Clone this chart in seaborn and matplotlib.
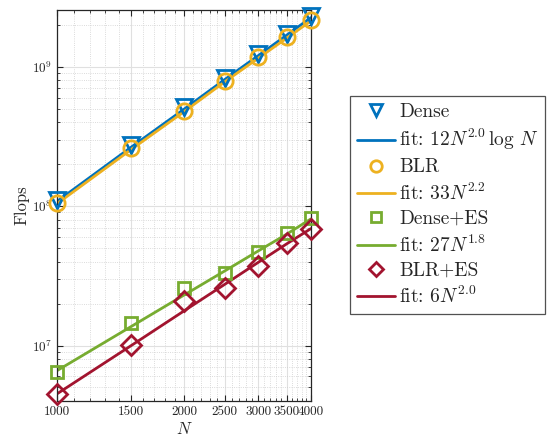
import matplotlib
matplotlib.use("Agg")
import matplotlib.pyplot as plt
import matplotlib.ticker as mticker
import seaborn as sns
import pandas as pd

# problem sizes
n_values = [1000, 1500, 2000, 2500, 3000, 3500, 4000]

dense_flops = [1.10e8, 2.75e8, 5.10e8, 8.30e8, 1.23e9, 1.72e9, 2.30e9]
blr_flops = [1.06e8, 2.60e8, 4.81e8, 7.90e8, 1.17e9, 1.63e9, 2.16e9]
dense_es_flops = [6.5e6, 1.46e7, 2.58e7, 3.30e7, 4.72e7, 6.40e7, 8.20e7]
blr_es_flops = [4.5e6, 1.01e7, 2.07e7, 2.60e7, 3.74e7, 5.42e7, 6.87e7]

# fitted curves
dense_fit = [1.08e8, 2.65e8, 4.95e8, 8.10e8, 1.20e9, 1.68e9, 2.25e9]
blr_fit = [1.04e8, 2.55e8, 4.75e8, 7.80e8, 1.15e9, 1.60e9, 2.13e9]
dense_es_fit = [6.6e6, 1.37e7, 2.30e7, 3.43e7, 4.77e7, 6.28e7, 8.10e7]
blr_es_fit = [4.5e6, 1.00e7, 1.77e7, 2.75e7, 3.95e7, 5.35e7, 6.90e7]

series_names = ["Dense", "BLR", "Dense+ES", "BLR+ES"]
fit_labels = [r"fit: $12N^{2.0}\,\log\,N$", r"fit: $33N^{2.2}$",
              r"fit: $27N^{1.8}$", r"fit: $6N^{2.0}$"]
tick_labels = ["1000", "1500", "2000", "2500", "3000", "3500", "4000"]

sns.set_style("ticks")
plt.rcParams["font.family"] = "serif"
plt.rcParams["font.serif"] = ["cmr10"]
plt.rcParams["mathtext.fontset"] = "cm"
plt.rcParams["axes.formatter.use_mathtext"] = True
plt.rcParams["axes.unicode_minus"] = False

colors = ["#0072BD", "#EDB120", "#77AC30", "#A2142F"]
markers = ["v", "o", "s", "D"]
marker_sizes = [11, 11, 9, 10]

measured = [dense_flops, blr_flops, dense_es_flops, blr_es_flops]
fits = [dense_fit, blr_fit, dense_es_fit, blr_es_fit]

fig = plt.figure(figsize=(5.5, 4.41), dpi=100)
ax = fig.add_axes([0.1036, 0.0907, 0.4618, 0.8866])

handles = []
labels = []
for name, ys, fys, flab, c, m, ms in zip(series_names, measured, fits, fit_labels,
                                         colors, markers, marker_sizes):
    df = pd.DataFrame({"N": n_values, "flops": ys, "fit": fys})
    sns.lineplot(data=df, x="N", y="fit", color=c, linewidth=2, ax=ax,
                 label=flab, legend=False)
    line_h = ax.lines[-1]
    sns.lineplot(data=df, x="N", y="flops", color=c, linestyle="", marker=m,
                 markersize=ms, markerfacecolor="none", markeredgecolor=c,
                 markeredgewidth=2, ax=ax, label=name, legend=False, clip_on=False)
    mark_h = ax.lines[-1]
    mark_h.set_zorder(5)
    handles += [mark_h, line_h]
    labels += [name, flab]

ax.set_xscale("log")
ax.set_yscale("log")
ax.set_xlim(1000, 4000)
ax.set_ylim(4.0e6, 2.55e9)
ax.xaxis.set_major_locator(mticker.FixedLocator(n_values))
ax.xaxis.set_major_formatter(mticker.FixedFormatter(tick_labels))
ax.xaxis.set_minor_locator(mticker.FixedLocator(list(range(1000, 4001, 100))))
ax.xaxis.set_minor_formatter(mticker.NullFormatter())
ax.yaxis.set_major_locator(mticker.LogLocator(base=10, numticks=10))
ax.yaxis.set_minor_locator(mticker.LogLocator(base=10, subs=range(2, 10), numticks=20))
ax.yaxis.set_minor_formatter(mticker.NullFormatter())

ax.grid(True, which="major", color="#e0e0e0", linewidth=0.8, linestyle="-")
ax.grid(True, which="minor", color="#cfcfcf", linewidth=0.6, linestyle=":")
ax.set_axisbelow(True)

ax.tick_params(which="both", direction="in", top=True, right=True,
               colors="#262626", labelsize=9.5)
ax.tick_params(which="major", length=4)
ax.tick_params(which="minor", length=2)
for sp in ax.spines.values():
    sp.set_color("#262626")
    sp.set_linewidth(0.9)

ax.set_xlabel(r"$N$", fontsize=12, labelpad=2)
ax.set_ylabel("Flops", fontsize=12, labelpad=2)

leg = fig.legend(handles, labels, loc="upper left", bbox_to_anchor=(0.636, 0.782),
                 fontsize=14, frameon=True, fancybox=False, edgecolor="#262626",
                 handlelength=2.0, handletextpad=0.2, labelspacing=0.32,
                 borderpad=0.35, borderaxespad=0, markerscale=0.75)
leg.get_frame().set_linewidth(0.9)

fig.savefig("out.png", dpi=100)
